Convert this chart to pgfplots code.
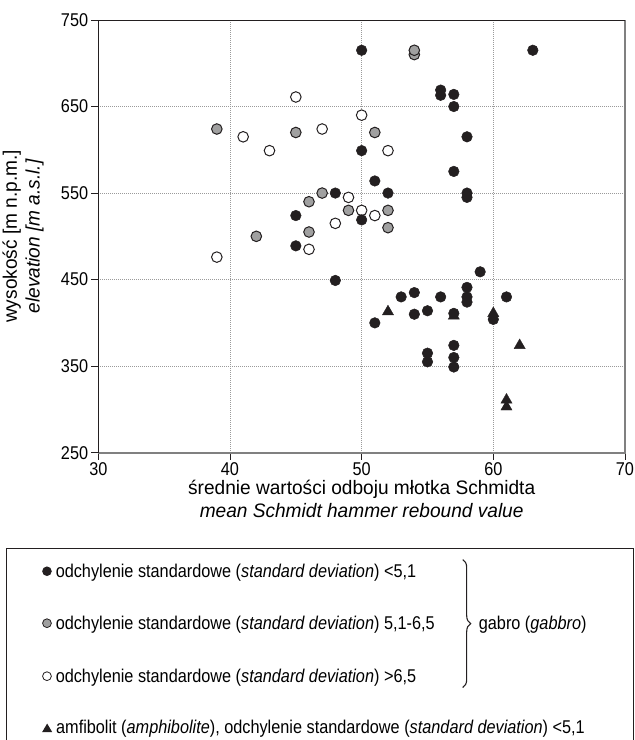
\documentclass[border=0pt]{standalone}
\usepackage{fontspec}
\setmainfont{Liberation Sans}[FakeStretch=0.88]
\newfontfamily\labfont{Liberation Sans}[FakeStretch=0.98]
\usepackage{pgfplots}
\pgfplotsset{compat=1.18}
\usetikzlibrary{decorations.pathreplacing}
\definecolor{ink}{HTML}{231F20}
\definecolor{midgray}{HTML}{A0A0A0}
\definecolor{gridgray}{HTML}{9A9A9A}
\definecolor{axgray}{HTML}{808080}
\newcommand{\fs}{\fontsize{18.5}{22.5}\selectfont}
\newcommand{\fl}{\labfont\fontsize{19.5}{23}\selectfont}
\begin{document}
\begin{tikzpicture}[font=\fs]
\path (0pt,0pt) rectangle (635pt,740pt);
\begin{axis}[
  at={(98.4pt,287pt)}, anchor=south west,
  scale only axis, width=527pt, height=433pt,
  xmin=30, xmax=70, ymin=250, ymax=750,
  xtick={30,40,50,60,70}, ytick={250,350,450,550,650,750},
  tick align=outside, xtick pos=left, ytick pos=left,
  major tick length=7pt,
  every tick/.style={ink, line width=0.8pt},
  grid=major,
  major grid style={gridgray, line width=0.8pt, dash pattern=on 0.8pt off 1.2pt},
  axis line style={draw=none},
  /pgf/number format/assume math mode=true,
  ticklabel style={font=\fs, inner sep=0pt},
  xticklabel style={yshift=-3pt},
  yticklabel style={xshift=-3pt},
  every axis x label/.style={at={(axis description cs:0.5,0)}, anchor=north, align=center, inner sep=0pt, yshift=-27pt, font=\fl},
  every axis y label/.style={at={(axis description cs:-0.1032,0.5)}, anchor=south, rotate=90, align=center, inner sep=0pt, font=\fl},
  xlabel={średnie wartości odboju młotka Schmidta\\\textit{mean Schmidt hammer rebound value}},
  ylabel={wysokość [m n.p.m.]\\\textit{elevation [m a.s.l.]}},
  clip=false,
]
% sd > 6.5 (open)
\addplot[only marks, mark=*, mark size=5.3pt, mark options={fill=white, draw=ink, line width=1pt}]
coordinates {(45,661) (50,640) (41,615) (47,624) (43,599) (52,599) (49,545) (50,530) (51,524) (48,515) (46,485) (39,476)};
% sd 5.1-6.5 (gray)
\addplot[only marks, mark=*, mark size=5.3pt, mark options={fill=midgray, draw=ink, line width=1pt}]
coordinates {(39,624) (45,620) (51,620) (54,710) (54,715) (47,550) (46,540) (49,530) (52,530) (46,505) (42,500) (52,510)};
% sd < 5.1 (black)
\addplot[only marks, mark=*, mark size=5.3pt, mark options={fill=ink, draw=ink, line width=0.5pt}]
coordinates {(50,715) (63,715) (56,669) (56,663) (57,664) (57,650) (58,615) (50,599) (57,575) (51,564) (52,550) (48,550) (58,550) (58,545) (45,524) (50,519) (45,489) (59,459) (48,449) (58,441) (58,430) (58,424) (53,430) (54,435) (56,430) (61,430) (54,410) (55,414) (57,411) (51,400) (60,404) (57,374) (57,360) (57,349) (55,365) (55,355)};
% amphibolite
\addplot[only marks, mark=triangle*, mark size=6.5pt, mark options={fill=ink, draw=ink, line width=0.3pt}]
coordinates {(52,413) (57,408) (60,411) (62,374) (61,311) (61,303)};
\draw[axgray, line width=2pt] (rel axis cs:0,0) -- (rel axis cs:1,0) -- (rel axis cs:1,1);
\draw[ink, line width=0.9pt] (rel axis cs:0,0) -- (rel axis cs:0,1) -- (rel axis cs:1,1);
\end{axis}
% legend box
\draw[ink, line width=1pt] (7pt,0pt) -- (7pt,191pt) -- (634pt,191pt) -- (634pt,0pt);
\node[anchor=base west, inner sep=0pt] at (42pt,162.5pt) {\tikz[baseline=-0.6ex]\fill[ink] (0,0) circle (4.8pt);\hspace{4pt}odchylenie standardowe (\textit{standard deviation}) <5,1};
\node[anchor=base west, inner sep=0pt] at (42pt,110.5pt) {\tikz[baseline=-0.6ex]\draw[fill=midgray, draw=ink, line width=0.8pt] (0,0) circle (4.4pt);\hspace{4pt}odchylenie standardowe (\textit{standard deviation}) 5,1-6,5};
\node[anchor=base west, inner sep=0pt] at (42pt,57.5pt) {\tikz[baseline=-0.6ex]\draw[fill=white, draw=ink, line width=0.8pt] (0,0) circle (4.4pt);\hspace{4pt}odchylenie standardowe (\textit{standard deviation}) >6,5};
\node[anchor=base west, inner sep=0pt] at (42pt,6.5pt) {\tikz[baseline=-0.1ex]\fill[ink] (0,0) -- (10pt,0) -- (5pt,8.5pt) -- cycle;\hspace{4pt}amfibolit (\textit{amphibolite}), odchylenie standardowe (\textit{standard deviation}) <5,1};
\draw[ink, line width=1.1pt, decorate, decoration={brace, amplitude=8pt}] (463pt,180pt) -- (463pt,52pt);
\node[anchor=base west, inner sep=0pt] at (479pt,110.5pt) {gabro (\textit{gabbro})};
\end{tikzpicture}
\end{document}
